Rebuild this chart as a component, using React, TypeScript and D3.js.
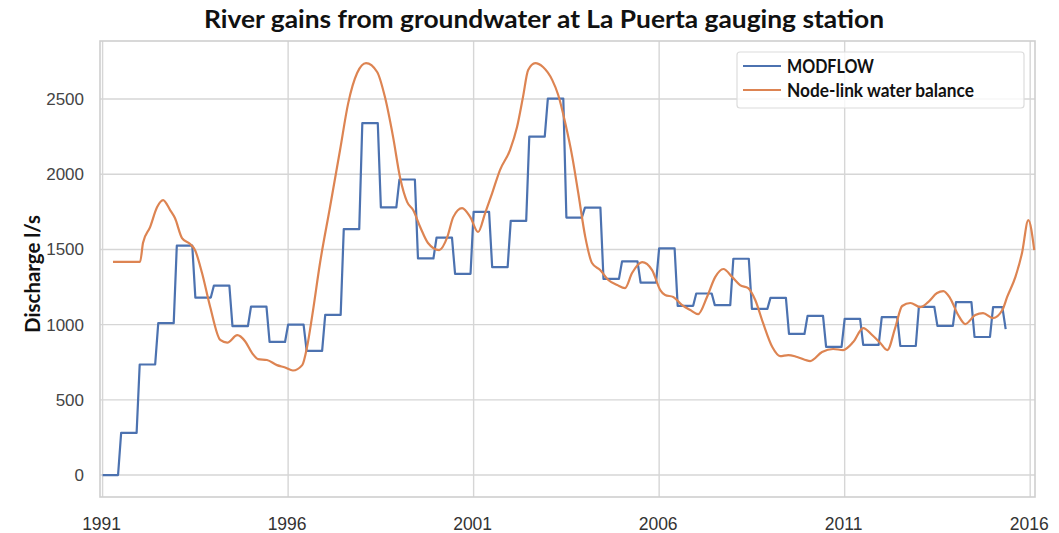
import React from "react";
import * as d3 from "d3";

// Axis ticks
const yearTicks = [1991, 1996, 2001, 2006, 2011, 2016];
const dischargeTicks = [0, 500, 1000, 1500, 2000, 2500];

// MODFLOW river gains (l/s), one value per semi-annual stress period from Jan 1991
const modflowStart = 1991;
const modflowValues = [
  0, 280, 735, 1010, 1525, 1180, 1260, 990, 1120, 885,
  1000, 825, 1065, 1635, 2340, 1780, 1965, 1440, 1578, 1338,
  1750, 1382, 1690, 2250, 2503, 1712, 1778, 1304, 1421, 1280,
  1507, 1125, 1207, 1130, 1438, 1105, 1178, 938, 1058, 852,
  1038, 865, 1050, 858, 1118, 992, 1150, 918, 1117,
];
// last simulated month of the record
const modflowTailYear = 2015.34;
const modflowTailValue = 970;

// Node-link water balance river gains (l/s)
const nodeYears = [
  1991.28, 1992.01, 1992.09, 1992.28, 1992.47, 1992.63, 1992.82, 1992.95, 1993.14, 1993.36,
  1993.49, 1993.68, 1993.9, 1994.17, 1994.36, 1994.63, 1994.84, 1995.03, 1995.19, 1995.43,
  1995.7, 1995.92, 1996.13, 1996.38, 1996.51, 1996.65, 1996.86, 1997.13, 1997.4, 1997.62,
  1997.86, 1998.1, 1998.4, 1998.61, 1998.83, 1999.02, 1999.21, 1999.37, 1999.56, 1999.77,
  2000.07, 2000.29, 2000.45, 2000.69, 2000.91, 2001.12, 2001.31, 2001.5, 2001.71, 2001.98,
  2002.17, 2002.33, 2002.47, 2002.66, 2002.87, 2003.12, 2003.28, 2003.47, 2003.66, 2003.82,
  2004.01, 2004.19, 2004.41, 2004.63, 2004.87, 2005.08, 2005.27, 2005.54, 2005.81, 2006.03,
  2006.16, 2006.38, 2006.62, 2006.84, 2007.05, 2007.29, 2007.51, 2007.73, 2007.97, 2008.18,
  2008.4, 2008.59, 2008.8, 2009.05, 2009.26, 2009.48, 2009.72, 2010.07, 2010.39, 2010.69,
  2010.96, 2011.23, 2011.5, 2011.74, 2011.96, 2012.15, 2012.36, 2012.55, 2012.77, 2013.04,
  2013.25, 2013.49, 2013.66, 2013.84, 2014.06, 2014.25, 2014.52, 2014.73, 2015.0, 2015.25,
  2015.38, 2015.6, 2015.78, 2015.95, 2016.11,
];
const nodeValues = [
  1418, 1418, 1545, 1649, 1782, 1828, 1762, 1709, 1576, 1536,
  1496, 1343, 1117, 898, 880, 930, 890, 811, 771, 765,
  731, 715, 695, 731, 851, 1060, 1410, 1782, 2161, 2473,
  2673, 2739, 2680, 2513, 2247, 1975, 1815, 1762, 1649, 1543,
  1496, 1582, 1715, 1775, 1715, 1616, 1742, 1875, 2028, 2161,
  2314, 2513, 2693, 2739, 2713, 2626, 2527, 2340, 2114, 1875,
  1582, 1410, 1363, 1297, 1263, 1243, 1343, 1416, 1363, 1230,
  1197, 1184, 1130, 1097, 1070, 1184, 1316, 1370, 1316, 1263,
  1243, 1164, 1011, 851, 791, 798, 785, 758, 818, 838,
  831, 884, 977, 931, 878, 831, 977, 1124, 1144, 1117,
  1150, 1210, 1223, 1177, 1064, 1004, 1064, 1077, 1044, 1097,
  1184, 1316, 1476, 1695, 1496,
];

const seriesNames = ["MODFLOW", "Node-link water balance"];
const seriesColors = ["#4c72b0", "#dd8452"];

const W = 1059;
const H = 533;
const plot = { left: 100, right: 1035, top: 41, bottom: 497 };

export default function App() {
  const x = d3.scaleLinear().domain([1990.93, 2016.13]).range([plot.left, plot.right]);
  const y = d3.scaleLinear().domain([-146, 2886]).range([plot.bottom, plot.top]);

  // MODFLOW values are held constant through each six-month period
  const modflowPoints: [number, number][] = [];
  modflowValues.forEach((v, i) => {
    const t0 = modflowStart + i * 0.5;
    const isLast = i === modflowValues.length - 1;
    modflowPoints.push([t0, v]);
    modflowPoints.push([t0 + (isLast ? 3 : 5) / 12, v]);
  });
  modflowPoints.push([modflowTailYear, modflowTailValue]);

  const nodePoints: [number, number][] = nodeYears.map((t, i) => [t, nodeValues[i]]);

  const stepLine = d3
    .line<[number, number]>()
    .x((d) => x(d[0]))
    .y((d) => y(d[1]));
  const smoothLine = d3
    .line<[number, number]>()
    .x((d) => x(d[0]))
    .y((d) => y(d[1]))
    .curve(d3.curveMonotoneX);

  const gridColor = "#d6d6d6";
  const tickFont = "'Liberation Sans', Arial, sans-serif";
  const boldFont = "Lato, 'Open Sans', sans-serif";

  return (
    <svg
      width={W}
      height={H}
      viewBox={`0 0 ${W} ${H}`}
      style={{ position: "absolute", left: 0, top: 0, display: "block", background: "#fff" }}
    >
      <rect x={0} y={0} width={W} height={H} fill="#fff" />

      {/* grid */}
      {dischargeTicks.map((v) => (
        <line
          key={`h${v}`}
          x1={plot.left}
          x2={plot.right}
          y1={y(v)}
          y2={y(v)}
          stroke={gridColor}
          strokeWidth={1.4}
        />
      ))}
      {yearTicks.map((t) => (
        <line
          key={`v${t}`}
          x1={x(t)}
          x2={x(t)}
          y1={plot.top}
          y2={plot.bottom}
          stroke={gridColor}
          strokeWidth={1.4}
        />
      ))}

      {/* frame */}
      <rect
        x={plot.left}
        y={plot.top}
        width={plot.right - plot.left}
        height={plot.bottom - plot.top}
        fill="none"
        stroke="#cfcfcf"
        strokeWidth={1.6}
      />

      {/* series */}
      <path
        d={stepLine(modflowPoints) || ""}
        fill="none"
        stroke={seriesColors[0]}
        strokeWidth={2.2}
        strokeLinejoin="round"
      />
      <path
        d={smoothLine(nodePoints) || ""}
        fill="none"
        stroke={seriesColors[1]}
        strokeWidth={2.2}
        strokeLinejoin="round"
      />

      {/* y tick labels */}
      {dischargeTicks.map((v) => (
        <text
          key={`yl${v}`}
          x={84}
          y={y(v) + 6}
          textAnchor="end"
          fontFamily={tickFont}
          fontSize={17}
          fill="#444"
        >
          {v}
        </text>
      ))}

      {/* x tick labels */}
      {yearTicks.map((t) => (
        <text
          key={`xl${t}`}
          x={x(t) - 1}
          y={530}
          textAnchor="middle"
          fontFamily={tickFont}
          fontSize={17.5}
          fill="#333"
        >
          {t}
        </text>
      ))}

      {/* axis title */}
      <text
        transform="translate(40, 274) rotate(-90)"
        textAnchor="middle"
        fontFamily={boldFont}
        fontWeight={700}
        fontSize={20}
        fill="#111"
        textLength={118}
        lengthAdjust="spacingAndGlyphs"
      >
        Discharge l/s
      </text>

      {/* chart title */}
      <text
        x={544}
        y={28}
        textAnchor="middle"
        fontFamily={boldFont}
        fontWeight={700}
        fontSize={25}
        fill="#111"
        textLength={680}
        lengthAdjust="spacingAndGlyphs"
      >
        River gains from groundwater at La Puerta gauging station
      </text>

      {/* legend */}
      <rect
        x={737}
        y={52}
        width={287}
        height={56}
        rx={3}
        fill="#fff"
        fillOpacity={0.8}
        stroke="#dcdcdc"
        strokeWidth={1.2}
      />
      {seriesNames.map((name, i) => (
        <g key={name}>
          <line
            x1={743}
            x2={781}
            y1={66 + i * 24}
            y2={66 + i * 24}
            stroke={seriesColors[i]}
            strokeWidth={2.2}
          />
          <text
            x={787}
            y={73 + i * 24}
            fontFamily={boldFont}
            fontWeight={700}
            fontSize={18}
            fill="#111"
            textLength={i === 0 ? 87 : 187}
            lengthAdjust="spacingAndGlyphs"
          >
            {name}
          </text>
        </g>
      ))}
    </svg>
  );
}
